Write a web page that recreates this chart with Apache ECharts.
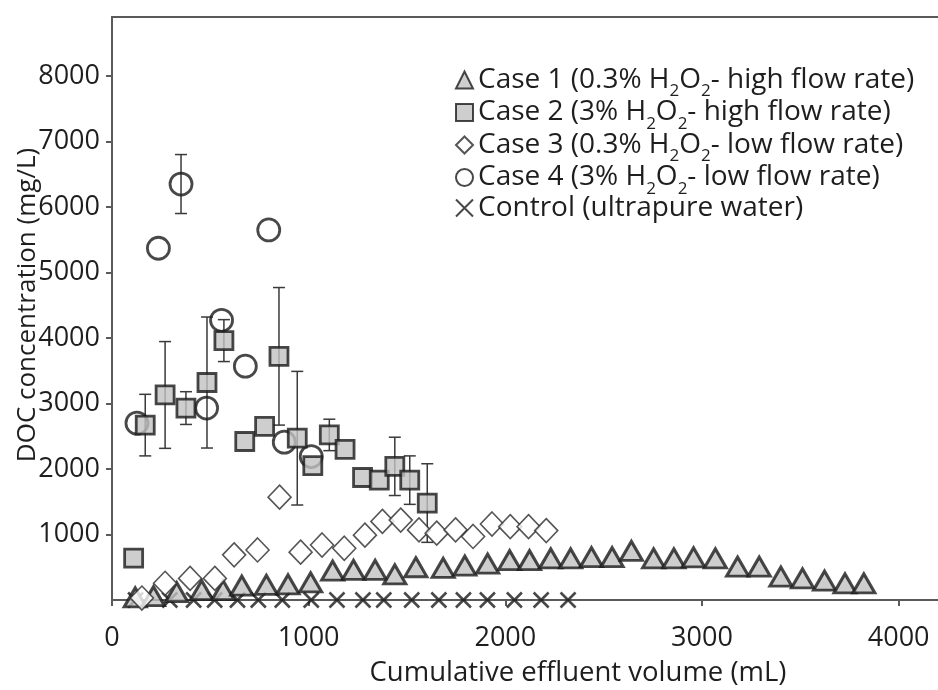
<!DOCTYPE html>
<html>
<head>
<meta charset="utf-8">
<script src="https://cdn.jsdelivr.net/npm/echarts@6/dist/echarts.min.js"></script>
<style>
  html, body { margin: 0; padding: 0; background: #fff; }
  #chart { width: 938px; height: 690px; }
</style>
</head>
<body>
<div id="chart"></div>
<script>
// Cumulative effluent volume (mL) and DOC concentration (mg/L) per case
const case1X = [118, 211, 329, 456, 565, 660, 785, 895, 1010, 1122, 1228, 1338, 1438, 1545, 1684, 1794, 1910, 2022, 2123, 2231, 2332, 2438, 2543, 2641, 2754, 2857, 2957, 3068, 3181, 3291, 3401, 3511, 3623, 3727, 3823];
const case1Y = [40, 60, 120, 150, 150, 220, 230, 240, 270, 450, 460, 460, 390, 500, 490, 525, 555, 610, 610, 635, 635, 655, 655, 750, 637, 637, 650, 637, 509, 509, 356, 331, 295, 255, 255];

const case2X = [110, 169, 270, 376, 483, 569, 675, 776, 849, 942, 1021, 1105, 1185, 1274, 1359, 1438, 1514, 1603];
const case2Y = [640, 2670, 3130, 2930, 3320, 3960, 2420, 2650, 3720, 2470, 2050, 2520, 2300, 1870, 1830, 2040, 1830, 1480];
const case2Err = [0, 470, 815, 250, 1000, 320, 0, 0, 1050, 1020, 0, 240, 0, 0, 0, 445, 370, 600];

const case3X = [152, 270, 397, 523, 621, 740, 852, 959, 1068, 1181, 1286, 1375, 1468, 1561, 1651, 1747, 1836, 1932, 2025, 2118, 2208];
const case3Y = [30, 255, 330, 330, 690, 764, 1570, 730, 840, 790, 990, 1200, 1220, 1070, 1020, 1070, 970, 1160, 1120, 1120, 1060];

const case4X = [127, 236, 351, 481, 557, 678, 797, 876, 1013];
const case4Y = [2700, 5370, 6350, 2930, 4270, 3570, 5650, 2410, 2190];
const case4Err = [0, 0, 450, 0, 0, 0, 0, 0, 0];

const controlX = [120, 294, 415, 522, 638, 744, 866, 1013, 1144, 1276, 1382, 1524, 1662, 1787, 1909, 2046, 2182, 2319];
const controlY = [0, 0, 0, 0, 0, 0, 0, 0, 0, 0, 0, 0, 0, 0, 0, 0, 0, 0];

// Legend entries: [series name, text before subscripts, middle, tail]
const seriesNames = ['Case 1', 'Case 2', 'Case 3', 'Case 4', 'Control'];
const legendParts = {
  'Case 1': ['Case 1 (0.3% H', 'O', '- high flow rate)'],
  'Case 2': ['Case 2 (3% H', 'O', '- high flow rate)'],
  'Case 3': ['Case 3 (0.3% H', 'O', '- low flow rate)'],
  'Case 4': ['Case 4 (3% H', 'O', '- low flow rate)'],
  'Control': ['Control (ultrapure water)']
};

const yTicks = [0, 1000, 2000, 3000, 4000, 5000, 6000, 7000, 8000];
const xTicks = [0, 1000, 2000, 3000, 4000];

const FONT = '"Open Sans", "Noto Sans", sans-serif';
const INK = '#1e1e1e';
const GREY_FILL = '#c2c2c2';

function pairs(xs, ys) { return xs.map((x, i) => [x, ys[i]]); }
function errRows(xs, ys, es) {
  const rows = [];
  xs.forEach((x, i) => { if (es[i] > 0) rows.push([x, ys[i] - es[i], ys[i] + es[i]]); });
  return rows;
}

const crossPath = 'path://M0,0 L10,10 M10,0 L0,10';

function errorBarSeries(rows) {
  return {
    type: 'custom',
    silent: true,
    z: 1,
    data: rows,
    renderItem: function (params, api) {
      const x = api.value(0);
      const lo = api.coord([x, api.value(1)]);
      const hi = api.coord([x, api.value(2)]);
      const half = 6;
      const style = { stroke: '#3a3a3a', lineWidth: 1.5 };
      return {
        type: 'group',
        children: [
          { type: 'line', shape: { x1: lo[0], y1: lo[1], x2: hi[0], y2: hi[1] }, style: style },
          { type: 'line', shape: { x1: lo[0] - half, y1: lo[1], x2: lo[0] + half, y2: lo[1] }, style: style },
          { type: 'line', shape: { x1: hi[0] - half, y1: hi[1], x2: hi[0] + half, y2: hi[1] }, style: style }
        ]
      };
    }
  };
}

const chart = echarts.init(document.getElementById('chart'), null, { renderer: 'canvas' });

const axisLineStyle = { color: '#5a5a5a', width: 2 };

chart.setOption({
  backgroundColor: '#ffffff',
  animation: false,
  textStyle: { fontFamily: FONT, color: INK },
  grid: { left: 112, top: 17, right: 0, bottom: 90, containLabel: false },
  legend: {
    orient: 'vertical',
    left: 450,
    top: 59,
    itemWidth: 17,
    itemHeight: 17,
    itemGap: -3.5,
    data: seriesNames,
    selectedMode: false,
    formatter: function (name) {
      const p = legendParts[name];
      if (p.length === 1) return '{t|' + p[0] + '}';
      return '{t|' + p[0] + '}{s|2}{t|' + p[1] + '}{s|2}{t|' + p[2] + '}';
    },
    textStyle: {
      fontFamily: FONT,
      fontSize: 28,
      color: INK,
      rich: {
        t: { fontSize: 28, fontFamily: FONT, color: INK, lineHeight: 32 },
        s: { fontSize: 17, fontFamily: FONT, color: INK, lineHeight: 32, height: 1, verticalAlign: 'top', padding: [27, 0, 0, 0] }
      }
    }
  },
  xAxis: [{
    type: 'value',
    min: 0,
    max: 4200,
    interval: 1000,
    position: 'bottom',
    axisLine: { show: true, onZero: false, lineStyle: axisLineStyle },
    axisTick: { show: true, length: 6, lineStyle: axisLineStyle },
    axisLabel: {
      fontSize: 27, fontFamily: FONT, color: INK, margin: 25,
      showMaxLabel: false,
      formatter: function (v) { return xTicks.indexOf(v) >= 0 ? String(v) : ''; }
    },
    splitLine: { show: false }
  }, {
    type: 'value',
    min: 0,
    max: 4200,
    position: 'top',
    axisLine: { show: true, onZero: false, lineStyle: axisLineStyle },
    axisTick: { show: false },
    axisLabel: { show: false },
    splitLine: { show: false }
  }],
  yAxis: {
    type: 'value',
    min: 0,
    max: 8900,
    interval: 1000,
    axisLine: { show: true, onZero: false, lineStyle: axisLineStyle },
    axisTick: { show: true, length: 6, lineStyle: axisLineStyle },
    axisLabel: {
      fontSize: 27, fontFamily: FONT, color: INK, margin: 12,
      showMinLabel: false,
      showMaxLabel: false,
      formatter: function (v) { return (v > 0 && yTicks.indexOf(v) >= 0) ? String(v) : ''; }
    },
    splitLine: { show: false }
  },
  graphic: [{
    type: 'text',
    x: 28,
    y: 305,
    rotation: Math.PI / 2,
    style: {
      text: 'DOC concentration (mg/L)',
      fontSize: 26,
      fontFamily: FONT,
      fill: INK,
      align: 'center',
      verticalAlign: 'middle'
    }
  }, {
    type: 'text',
    x: 578,
    y: 673,
    style: {
      text: 'Cumulative effluent volume (mL)',
      fontSize: 27.5,
      fontFamily: FONT,
      fill: INK,
      align: 'center',
      verticalAlign: 'middle'
    }
  }],
  series: [
    errorBarSeries(errRows(case2X, case2Y, case2Err)),
    errorBarSeries(errRows(case4X, case4Y, case4Err)),
    {
      name: 'Control', type: 'scatter', z: 2,
      symbol: crossPath, symbolSize: 15,
      itemStyle: { color: 'rgba(0,0,0,0)', borderColor: '#1a1a1a', borderWidth: 2.6 },
      data: pairs(controlX, controlY)
    },
    {
      name: 'Case 1', type: 'scatter', z: 3,
      symbol: 'triangle', symbolSize: [22, 19],
      itemStyle: { color: GREY_FILL, borderColor: '#1a1a1a', borderWidth: 3 },
      data: pairs(case1X, case1Y)
    },
    {
      name: 'Case 3', type: 'scatter', z: 3,
      symbol: 'diamond', symbolSize: [23, 24],
      itemStyle: { color: '#ffffff', borderColor: '#2a2a2a', borderWidth: 1.6 },
      data: pairs(case3X, case3Y)
    },
    {
      name: 'Case 4', type: 'scatter', z: 4,
      symbol: 'circle', symbolSize: 22,
      itemStyle: { color: 'rgba(255,255,255,0)', borderColor: '#1a1a1a', borderWidth: 2.8 },
      data: pairs(case4X, case4Y)
    },
    {
      name: 'Case 2', type: 'scatter', z: 5,
      symbol: 'rect', symbolSize: 18,
      itemStyle: { color: GREY_FILL, borderColor: '#1a1a1a', borderWidth: 2.8 },
      data: pairs(case2X, case2Y)
    }
  ]
});
</script>
</body>
</html>
